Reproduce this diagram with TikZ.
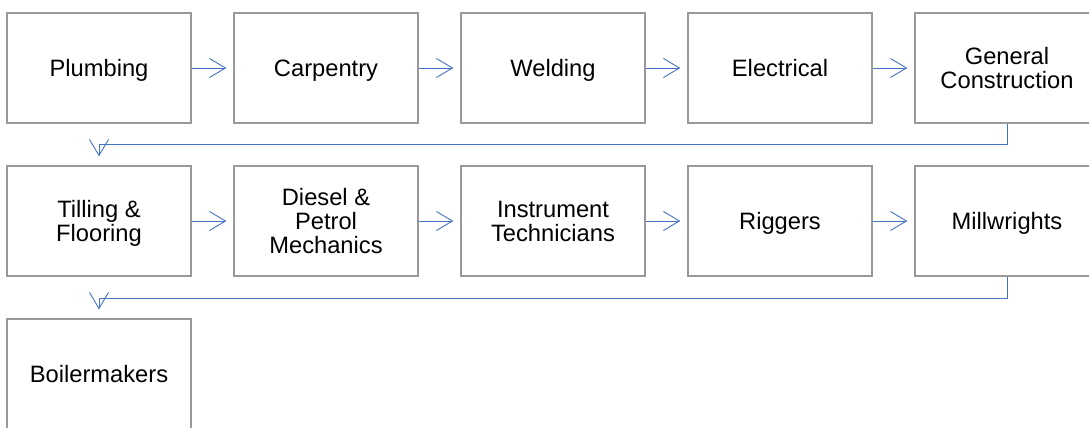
\documentclass[tikz,border=0pt]{standalone}
\usepackage{fontspec}
\setmainfont{Liberation Sans}
\usetikzlibrary{arrows.meta}
\definecolor{boxgray}{HTML}{999999}
\definecolor{arrblue}{HTML}{4472C4}
\newcommand\lnstrut{\rule{0pt}{17pt}}
\begin{document}
\begin{tikzpicture}[x=1pt,y=1pt,
  stepbox/.style={draw=boxgray,line width=1.3pt,minimum width=184pt,minimum height=110pt,
    align=center,inner sep=0pt,text depth=0pt,font=\fontsize{23.7}{24}\selectfont},
  flow/.style={draw=arrblue,line width=0.9pt,-{Straight Barb[length=16pt,width=19pt,line width=0.9pt]}},
  hflow/.style={flow,shorten >=7pt},
  wrap/.style={flow,shorten >=9pt}]
\useasboundingbox (0,0) rectangle (1089,428);
\node[stepbox] (b1) at (99,360) {\lnstrut Plumbing};
\node[stepbox] (b2) at (326,360) {\lnstrut Carpentry};
\node[stepbox] (b3) at (553,360) {\lnstrut Welding};
\node[stepbox] (b4) at (780,360) {\lnstrut Electrical};
\node[stepbox] (b5) at (1007,360) {\lnstrut General\\\lnstrut Construction};
\node[stepbox] (b6) at (99,207) {\lnstrut Tilling \&\\\lnstrut Flooring};
\node[stepbox] (b7) at (326,207) {\lnstrut Diesel \&\\\lnstrut Petrol\\\lnstrut Mechanics};
\node[stepbox] (b8) at (553,207) {\lnstrut Instrument\\\lnstrut Technicians};
\node[stepbox] (b9) at (780,207) {\lnstrut Riggers};
\node[stepbox] (b10) at (1007,207) {\lnstrut Millwrights};
\node[stepbox] (b11) at (99,54) {\lnstrut Boilermakers};
\draw[hflow] (b1) -- (b2);
\draw[hflow] (b2) -- (b3);
\draw[hflow] (b3) -- (b4);
\draw[hflow] (b4) -- (b5);
\draw[hflow] (b6) -- (b7);
\draw[hflow] (b7) -- (b8);
\draw[hflow] (b8) -- (b9);
\draw[hflow] (b9) -- (b10);
\draw[wrap] (b5.south) -- ++(0,-21) -| (b6.north);
\draw[wrap] (b10.south) -- ++(0,-22) -| (b11.north);
\end{tikzpicture}
\end{document}
